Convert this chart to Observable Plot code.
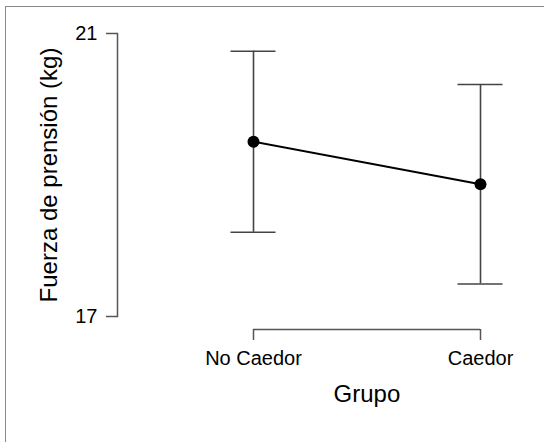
<!DOCTYPE html>
<html><head><meta charset="utf-8">
<script src="https://cdn.jsdelivr.net/npm/d3@7"></script>
<script src="https://cdn.jsdelivr.net/npm/@observablehq/plot@0.6"></script>
<style>
body{margin:0;background:#fff;}
#wrap{position:relative;width:544px;height:442px;overflow:hidden;background:#fff;}
#border{position:absolute;left:5px;top:6px;width:600px;height:500px;border-left:1.5px solid #8a8a8a;border-top:1.5px solid #8a8a8a;}
#chart{position:absolute;left:0;top:0;}
</style></head><body>
<div id="wrap"><div id="border"></div><div id="chart"></div></div>
<script>
const groups = ["No Caedor", "Caedor"];
const means = [19.47, 18.87];
const upper = [20.75, 20.28];
const lower = [18.19, 17.46];
const yTicks = [17, 21];
const xTitle = "Grupo";
const yTitle = "Fuerza de prensión (kg)";

const data = groups.map((g, i) => ({grupo: g, mean: means[i], hi: upper[i], lo: lower[i]}));
const W = 544, H = 442, mL = 117, mR = 63.7, mT = 33, mB = 126;
const xRange = [252.5, 480.3];
const font = "'Liberation Sans', Arial, Helvetica, sans-serif";
const axisColor = "#555";

const plot = Plot.plot({
  width: W, height: H,
  marginLeft: mL, marginRight: mR, marginTop: mT, marginBottom: mB,
  style: {fontFamily: font, background: "transparent", color: "#000", overflow: "visible"},
  x: {type: "point", domain: groups, range: xRange, padding: 0, label: null},
  y: {domain: [yTicks[0], yTicks[yTicks.length - 1]], label: null},
  marks: [
    Plot.frame({anchor: "left", stroke: axisColor, strokeWidth: 1.5}),
    Plot.axisY({ticks: yTicks, tickFormat: d => String(d), tickSize: 11, tickPadding: 9, fontSize: 20, stroke: axisColor, strokeWidth: 1.5, label: null}),
    Plot.ruleY([yTicks[0]], {x1: () => groups[0], x2: () => groups[groups.length - 1], dy: 13, stroke: axisColor, strokeWidth: 1.5}),
    Plot.axisX({tickSize: 11, tickPadding: 10, dy: 13, fontSize: 20, stroke: axisColor, strokeWidth: 1.5, label: null}),
    Plot.ruleX(data, {x: "grupo", y1: "lo", y2: "hi", stroke: "#444", strokeWidth: 1.6}),
    Plot.ruleY(data, {y: "hi", x1: "grupo", x2: "grupo", insetLeft: -22.5, insetRight: -22.5, stroke: "#444", strokeWidth: 1.6}),
    Plot.ruleY(data, {y: "lo", x1: "grupo", x2: "grupo", insetLeft: -22.5, insetRight: -22.5, stroke: "#444", strokeWidth: 1.6}),
    Plot.line(data, {x: "grupo", y: "mean", stroke: "#000", strokeWidth: 2}),
    Plot.dot(data, {x: "grupo", y: "mean", r: 6, fill: "#000", stroke: null}),
    Plot.text([yTitle], {frameAnchor: "left", textAnchor: "middle", rotate: -90, dx: -68, fontSize: 24, fill: "#000"}),
    Plot.text([xTitle], {frameAnchor: "bottom", textAnchor: "middle", dx: (xRange[0] + xRange[1]) / 2 - (mL + W - mR) / 2, dy: 85, fontSize: 24, fill: "#000"})
  ]
});
document.getElementById("chart").appendChild(plot);
</script>
</body></html>
